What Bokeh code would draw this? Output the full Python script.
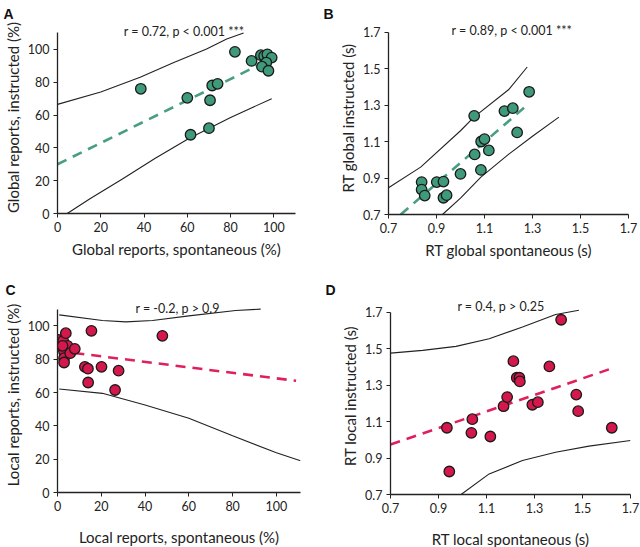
from bokeh.plotting import figure
from bokeh.layouts import column, row
from bokeh.models import Range1d, Label, FixedTicker
from bokeh.embed import file_html
from bokeh.resources import INLINE

FONT = "Lato"

# ---------------- Panel A: global reports ----------------
a_spont = [38.5, 60, 61.5, 70, 70.5, 71.5, 74, 82, 89.7, 94, 95.5, 97, 99, 96.5, 94.5, 97.5]
a_instr = [76, 70.5, 48, 52, 69, 78, 79, 98.5, 93, 96.5, 96, 97, 95, 92, 89.5, 87]
a_fit_x = [0, 97]
a_fit_y = [30, 93]
a_up_x = [0, 20, 38.2, 53.5, 68.9, 78.2, 86]
a_up_y = [66.5, 74, 83, 91.8, 100.3, 106.3, 110]
a_lo_x = [4.5, 15, 30, 45, 60.5, 80, 99]
a_lo_y = [0, 9, 21, 33.5, 45.6, 58.5, 70]

# ---------------- Panel B: RT global ----------------
b_spont = [0.838, 0.838, 0.851, 0.901, 0.929, 0.929, 0.942, 1.0, 1.057, 1.059,
           1.085, 1.086, 1.10, 1.118, 1.183, 1.218, 1.236, 1.286]
b_instr = [0.878, 0.837, 0.804, 0.878, 0.881, 0.792, 0.806, 0.923, 1.242, 1.03,
           0.945, 1.101, 1.114, 1.052, 1.268, 1.284, 1.151, 1.374]
b_fit_x = [0.751, 1.284]
b_fit_y = [0.7, 1.308]
b_up_x = [0.7, 0.834, 1.0, 1.056, 1.2, 1.278]
b_up_y = [0.847, 0.96, 1.16, 1.235, 1.385, 1.51]
b_lo_x = [0.925, 1.0, 1.085, 1.2, 1.3, 1.41]
b_lo_y = [0.7, 0.79, 0.905, 1.03, 1.13, 1.235]

# ---------------- Panel C: local reports ----------------
c_spont = [0.5, 2.6, 3.8, 3, 3, 3, 4.6, 5.8, 7.9, 12.5, 13.9, 14, 15.5, 20.1, 26.3, 27.9, 47.9, 2.3]
c_instr = [91.6, 91, 95.6, 84.6, 80.6, 78, 88, 83.6, 86.2, 75.4, 74.3, 66, 97, 75.4, 61.5, 73.1, 94, 88]
c_fit_x = [0, 109]
c_fit_y = [85, 67]
c_up_x = [0.8, 20.5, 31.2, 43.4, 60, 81.4, 92.8]
c_up_y = [106.6, 103.2, 102.4, 103.2, 106, 109.2, 110]
c_lo_x = [0.8, 20.5, 40, 60, 80, 100, 111]
c_lo_y = [62.1, 59.5, 52.5, 44.5, 34, 23.8, 19]

# ---------------- Panel D: RT local ----------------
d_spont = [0.935, 0.945, 1.037, 1.041, 1.116, 1.171, 1.186, 1.212, 1.226, 1.237,
           1.239, 1.291, 1.314, 1.362, 1.411, 1.474, 1.482, 1.622]
d_instr = [1.066, 0.826, 1.038, 1.113, 1.018, 1.184, 1.234, 1.431, 1.34, 1.34,
           1.32, 1.192, 1.206, 1.402, 1.658, 1.248, 1.157, 1.066]
d_fit_x = [0.7, 1.61]
d_fit_y = [0.974, 1.386]
d_up_x = [0.7, 0.834, 0.973, 1.111, 1.25, 1.388, 1.485]
d_up_y = [1.475, 1.49, 1.512, 1.554, 1.618, 1.687, 1.71]
d_lo_x = [0.994, 1.111, 1.25, 1.388, 1.527, 1.7]
d_lo_y = [0.7, 0.813, 0.886, 0.932, 0.965, 0.996]

pct_ticks = [0, 20, 40, 60, 80, 100]
rt_ticks = [0.7, 0.9, 1.1, 1.3, 1.5, 1.7]

GREEN_FILL = "#3f9a79"
GREEN_LINE = "#4a9e80"
RED_FILL = "#d4184c"
RED_LINE = "#e0205a"


def panel(letter, xs, ys, fit_x, fit_y, up_x, up_y, lo_x, lo_y,
          xr, yr, xb, yb, ticks, xlabel, ylabel, stat, stat_xy,
          fill, dash_color, borders, frame, xlabel_standoff):
    left, right, top, bottom = borders
    fw, fh = frame
    p = figure(frame_width=fw, frame_height=fh, output_backend="svg", toolbar_location=None,
               x_range=Range1d(*xr), y_range=Range1d(*yr),
               min_border_left=left, min_border_right=right,
               min_border_top=top, min_border_bottom=bottom)
    p.outline_line_color = None
    p.grid.visible = False
    p.background_fill_color = "white"
    p.border_fill_color = "white"

    p.title.text = letter
    p.title.align = "left"
    p.title.offset = -(left - 3)
    p.title.standoff = 0
    p.title.text_font = "Liberation Sans"
    p.title.text_font_style = "bold"
    p.title.text_font_size = "14px"
    p.title.text_color = "#111111"

    for ax, b in ((p.xaxis[0], xb), (p.yaxis[0], yb)):
        ax.bounds = b
        ax.ticker = FixedTicker(ticks=ticks)
        ax.axis_line_color = "#222222"
        ax.axis_line_width = 1.3
        ax.major_tick_line_color = "#222222"
        ax.major_tick_in = 0
        ax.major_tick_out = 4
        ax.minor_tick_line_color = None
        ax.major_label_text_font = FONT
        ax.major_label_text_font_size = "12.5px"
        ax.major_label_text_color = "#222222"
        ax.axis_label_text_font = FONT
        ax.axis_label_text_font_size = "15px"
        ax.axis_label_text_font_style = "normal"
        ax.axis_label_text_color = "#222222"
        ax.major_label_standoff = 4
    p.xaxis.axis_label = xlabel
    p.yaxis.axis_label = ylabel
    p.xaxis.axis_label_standoff = xlabel_standoff
    p.yaxis.axis_label_standoff = 3

    p.line(up_x, up_y, line_color="#222222", line_width=1.1)
    p.line(lo_x, lo_y, line_color="#222222", line_width=1.1)
    p.line(fit_x, fit_y, line_color=dash_color, line_width=2.6, line_dash="10 7")
    p.scatter(xs, ys, size=10.5, fill_color=fill, line_color="#1a1a1a", line_width=1.3)

    p.add_layout(Label(x=stat_xy[0], y=stat_xy[1], text=stat, text_font=FONT,
                       text_font_size="12.5px", text_color="#222222",
                       text_align="center", text_baseline="middle"))
    return p


pa = panel("A", a_spont, a_instr, a_fit_x, a_fit_y, a_up_x, a_up_y, a_lo_x, a_lo_y,
           (0, 110), (0, 117), (0, 110), (0, 110), pct_ticks,
           "Global reports, spontaneous (%)", "Global reports, instructed (%)",
           "r = 0.72, p < 0.001 ***", (58.5, 111.2),
           GREEN_FILL, GREEN_LINE, (57, 25, 21, 57), (238, 192), 5)

pb = panel("B", b_spont, b_instr, b_fit_x, b_fit_y, b_up_x, b_up_y, b_lo_x, b_lo_y,
           (0.7, 1.7), (0.7, 1.76), (0.7, 1.7), (0.7, 1.7), rt_ticks,
           "RT global spontaneous (s)", "RT global instructed (s)",
           "r = 0.89, p < 0.001 ***", (1.214, 1.71),
           GREEN_FILL, GREEN_LINE, (68, 12, 21, 56), (240, 193), 5)

pc = panel("C", c_spont, c_instr, c_fit_x, c_fit_y, c_up_x, c_up_y, c_lo_x, c_lo_y,
           (0, 111), (0, 117), (0, 111), (0, 110), pct_ticks,
           "Local reports, spontaneous (%)", "Local reports, instructed (%)",
           "r = -0.2, p >  0.9", (55.6, 110.5),
           RED_FILL, RED_LINE, (55, 22, 27, 55), (243, 195), 14)

pd_ = panel("D", d_spont, d_instr, d_fit_x, d_fit_y, d_up_x, d_up_y, d_lo_x, d_lo_y,
            (0.7, 1.7), (0.7, 1.78), (0.7, 1.7), (0.7, 1.7), rt_ticks,
            "RT local spontaneous (s)", "RT local instructed (s)",
            "r = 0.4, p > 0.25", (1.16, 1.733),
            RED_FILL, RED_LINE, (68, 12, 27, 53), (240, 197), 14)

layout = column(row(pa, pb), row(pc, pd_))

open("out.html", "w").write(file_html(layout, INLINE))
